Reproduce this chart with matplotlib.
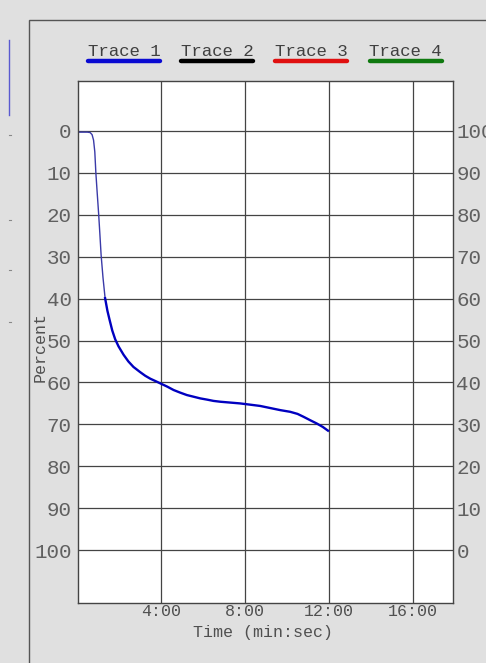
import numpy as np
import matplotlib.pyplot as plt
from matplotlib.lines import Line2D
from matplotlib.patches import Rectangle

# trace 1, time in minutes, percent
t_min = [0.0, 0.0, 0.0, 0.1, 0.3, 0.5, 0.63, 0.72, 0.79, 0.85, 0.9, 0.96, 1.03,
         1.09, 1.15, 1.24, 1.34, 1.45, 1.55, 1.68, 1.82, 1.98, 2.22, 2.45,
         2.69, 3.0, 3.25, 3.49, 3.75, 3.96, 4.3, 4.6, 4.9, 5.23, 5.55, 5.87,
         6.2, 6.5, 6.83, 7.3, 7.77, 8.25, 8.72, 9.2, 9.68, 10.15, 10.5, 10.79,
         11.1, 11.42, 11.7, 11.95]
percent = [0.3, -5.2, 0.6, 0.3, 0.3, 0.3, 0.4, 0.9, 2.2, 5.0, 10.0, 14.5, 19.6,
           24.5, 29.6, 35.0, 39.9, 42.9, 45.0, 47.6, 49.7, 51.4, 53.4, 55.0,
           56.3, 57.5, 58.4, 59.1, 59.7, 60.2, 61.0, 61.8, 62.4, 63.0, 63.4, 63.8,
           64.1, 64.4, 64.6, 64.8, 65.0, 65.3, 65.6, 66.1, 66.6, 67.0, 67.5, 68.2,
           69.0, 69.8, 70.6, 71.5]

x_ticks = [4, 8, 12, 16]
x_labels = ['4:00', '8:00', '12:00', '16:00']
y_ticks = list(range(0, 101, 10))
legend_names = ['Trace 1', 'Trace 2', 'Trace 3', 'Trace 4']
legend_colors = ['#0a0ad2', '#000000', '#e01010', '#107a10']

plt.rcParams['font.family'] = ['Liberation Mono', 'DejaVu Sans Mono']
bg = '#e0e0e0'
W, H = 486, 663

fig = plt.figure(figsize=(W / 100, H / 100), dpi=100, facecolor=bg)

def fx(px):
    return px / W

def fy(py):
    return 1 - py / H

# panel border and the odd bits on the left edge
fig.add_artist(Rectangle((fx(29), fy(700)), fx(500), 680 / H, transform=fig.transFigure,
                         facecolor='none', edgecolor='#555555', lw=1))
fig.add_artist(Line2D([fx(9), fx(9)], [fy(40), fy(115)], transform=fig.transFigure,
                      color='#5a5ad0', lw=1))
for py in [135, 220, 270, 322]:
    fig.add_artist(Line2D([fx(9), fx(10.5)], [fy(py), fy(py)], transform=fig.transFigure,
                          color='#888888', lw=0.8))

ax = fig.add_axes([fx(78), fy(603), fx(453 - 78), (603 - 81) / H])
ax.set_facecolor('white')
ax.plot(t_min[:17], percent[:17], color='#3a3aa8', lw=1.0)
ax.plot(t_min[16:], percent[16:], color='#0000c0', lw=1.7)

ax.set_xlim(0.05, 17.9)
ax.set_ylim(112.6, -11.9)
ax.set_xticks(x_ticks)
ax.set_xticklabels(x_labels)
ax.set_yticks(y_ticks)
ax.set_yticklabels([str(v) for v in y_ticks])
ax.grid(True, color='#444444', lw=0.9)
ax.tick_params(axis='y', length=0, pad=4.5, labelsize=15, labelcolor='#606060')
ax.tick_params(axis='x', length=0, pad=1, labelsize=12, labelcolor='#505050')
for s in ax.spines.values():
    s.set_color('#444444')
    s.set_linewidth(1)

ax2 = ax.twinx()
ax2.set_ylim(ax.get_ylim())
ax2.set_yticks(y_ticks)
ax2.set_yticklabels([str(100 - v) for v in y_ticks])
ax2.tick_params(axis='y', length=0, pad=2.5, labelsize=15, labelcolor='#606060')
for s in ax2.spines.values():
    s.set_visible(False)

fig.text(fx(263), fy(632), 'Time (min:sec)', ha='center', va='center',
         fontsize=12, color='#505050')
fig.text(fx(40), fy(347), 'Percent', ha='center', va='center', rotation=90,
         fontsize=12, color='#505050')

# legend across the top
centers = [124, 217, 311, 405.5]
for name, col, cx in zip(legend_names, legend_colors, centers):
    fig.text(fx(cx), fy(52), name, ha='center', va='center', fontsize=12.5, color='#404040')
    fig.add_artist(Line2D([fx(cx - 36), fx(cx + 36)], [fy(61), fy(61)],
                          transform=fig.transFigure, color=col, lw=3.2,
                          solid_capstyle='round'))

fig.savefig('out.png', dpi=100, facecolor=bg)
